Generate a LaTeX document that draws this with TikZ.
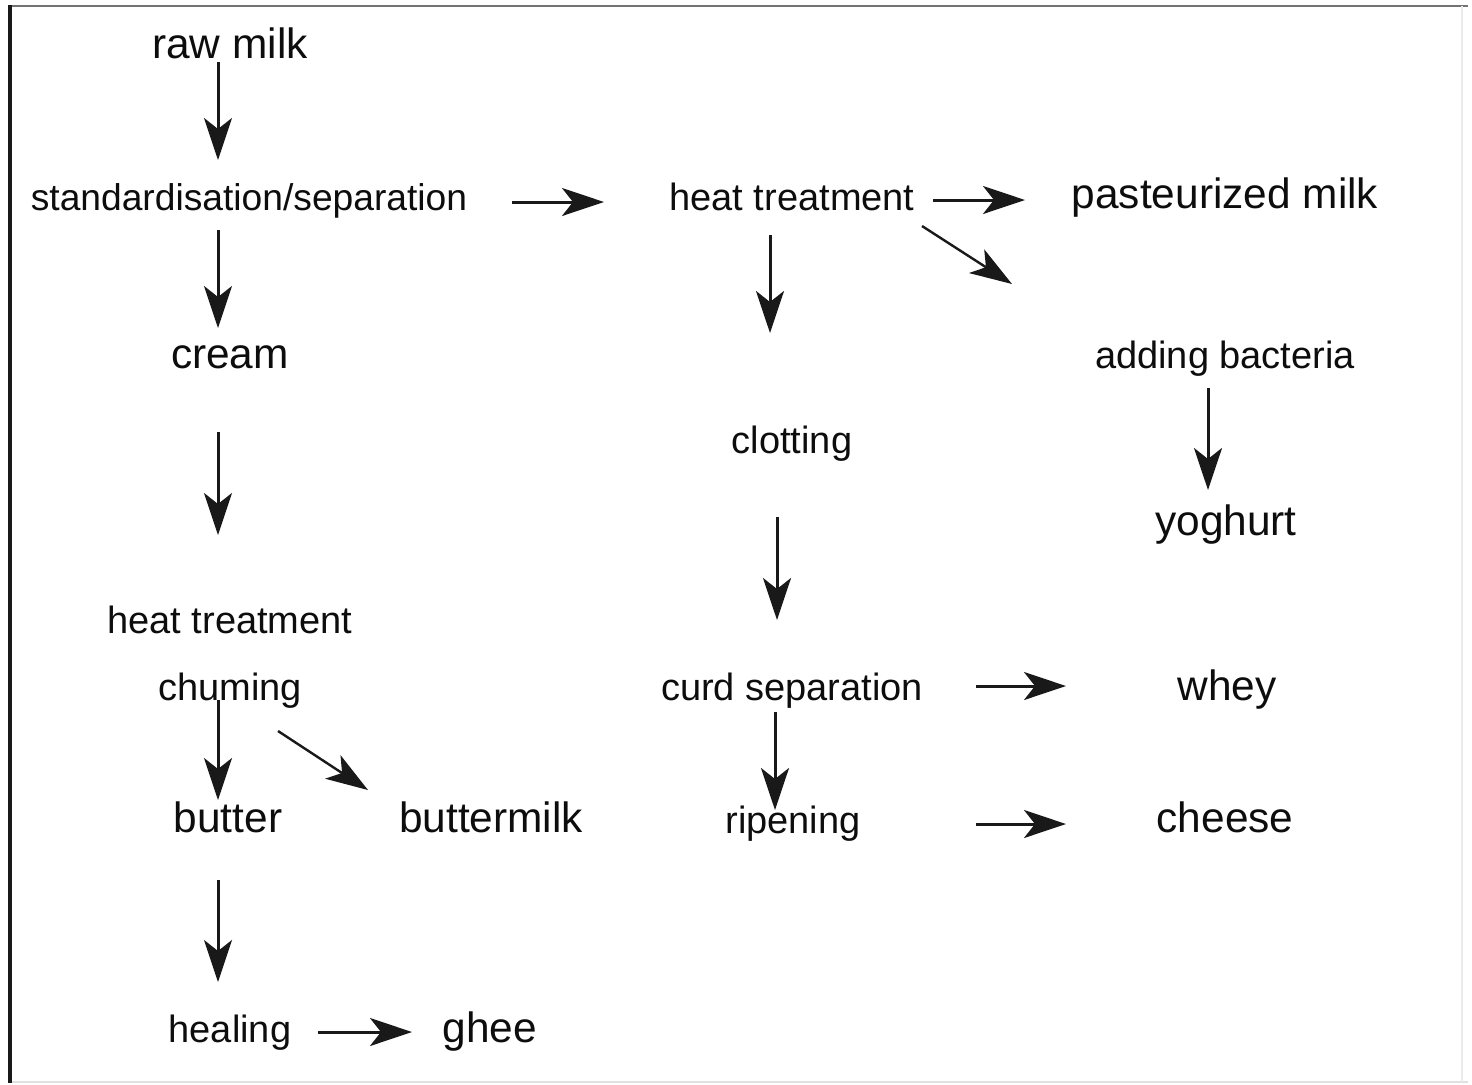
\documentclass[tikz,border=0pt]{standalone}
\usepackage{fontspec}
\setmainfont{Liberation Sans}
\usetikzlibrary{arrows.meta}
\begin{document}
\begin{tikzpicture}[x=0.5pt,y=-0.5pt,
  lbl/.style={anchor=base, inner sep=0pt, text=black!95, font=\fontsize{21.2}{24}\selectfont},
  lbls/.style={lbl, font=\fontsize{19}{22}\selectfont},
  arr/.style={draw=black!90, line width=1.5pt, -{Stealth[length=21pt,width=14pt,inset=5.5pt]}},
  arrd/.style={arr, line width=1.2pt}]
\useasboundingbox (0,0) rectangle (1472,1084);
% frame
\draw[black!55, line width=1pt] (10,6) -- (1468,6);
\draw[black!12, line width=0.8pt] (10,1082) -- (1468,1082);
\draw[black!8, line width=0.8pt] (1462,6) -- (1462,1082);
\draw[black!90, line width=1.6pt] (10,5) -- (10,1083);
% nodes
\node[lbl]  (raw)   at (230,58)   {raw milk};
\node[lbl, font=\fontsize{18.6}{22}\selectfont] (std) at (249,210) {standardisation/separation};
\node[lbls] (ht1)   at (792,210)  {heat treatment};
\node[lbl]  (past)  at (1225,208) {pasteurized milk};
\node[lbl]  (cream) at (230,368)  {cream};
\node[lbls] (bact)  at (1225,368) {adding bacteria};
\node[lbls] (clot)  at (792,453)  {clotting};
\node[lbl]  (yog)   at (1226,535) {yoghurt};
\node[lbls] (ht2)   at (230,633)  {heat treatment};
\node[lbls] (churn) at (230,700)  {chuming};
\node[lbls] (curd)  at (792,700)  {curd separation};
\node[lbl]  (whey)  at (1227,700) {whey};
\node[lbl]  (butter) at (228,832) {butter};
\node[lbl]  (bmilk) at (491,832)  {buttermilk};
\node[lbls] (ripe)  at (793,833)  {ripening};
\node[lbl]  (cheese) at (1225,832) {cheese};
\node[lbls] (heal)  at (230,1042) {healing};
\node[lbl]  (ghee)  at (490,1042) {ghee};
% connector ends
\coordinate (raw-o)   at (218,62);   \coordinate (std-i)   at (218,160);
\coordinate (std-o)   at (218,230);  \coordinate (cream-i) at (218,328);
\coordinate (cream-o) at (218,432);  \coordinate (ht2-i)   at (218,535);
\coordinate (churn-o) at (218,700);  \coordinate (butter-i) at (218,800);
\coordinate (churn-d) at (278,731);  \coordinate (bmilk-i) at (368,790);
\coordinate (butter-o) at (218,880); \coordinate (heal-i)  at (218,982);
\coordinate (heal-o)  at (318,1032); \coordinate (ghee-i)  at (412,1032);
\coordinate (std-r)   at (512,202);  \coordinate (ht1-i)   at (604,202);
\coordinate (ht1-r)   at (933,200);  \coordinate (past-i)  at (1025,200);
\coordinate (ht1-d)   at (922,226);  \coordinate (bact-i)  at (1012,284);
\coordinate (ht1-o)   at (770,235);  \coordinate (clot-i)  at (770,333);
\coordinate (bact-o)  at (1208,388); \coordinate (yog-i)   at (1208,490);
\coordinate (clot-o)  at (777,517);  \coordinate (curd-i)  at (777,620);
\coordinate (curd-r)  at (976,686);  \coordinate (whey-i)  at (1066,686);
\coordinate (curd-o)  at (775,712);  \coordinate (ripe-i)  at (775,810);
\coordinate (ripe-r)  at (976,824);  \coordinate (cheese-i) at (1066,824);
% connectors
\draw[arr]  (raw-o) -- (std-i);
\draw[arr]  (std-o) -- (cream-i);
\draw[arr]  (cream-o) -- (ht2-i);
\draw[arr]  (churn-o) -- (butter-i);
\draw[arrd] (churn-d) -- (bmilk-i);
\draw[arr]  (butter-o) -- (heal-i);
\draw[arr]  (heal-o) -- (ghee-i);
\draw[arr]  (std-r) -- (ht1-i);
\draw[arr]  (ht1-r) -- (past-i);
\draw[arrd] (ht1-d) -- (bact-i);
\draw[arr]  (ht1-o) -- (clot-i);
\draw[arr]  (bact-o) -- (yog-i);
\draw[arr]  (clot-o) -- (curd-i);
\draw[arr]  (curd-r) -- (whey-i);
\draw[arr]  (curd-o) -- (ripe-i);
\draw[arr]  (ripe-r) -- (cheese-i);
\end{tikzpicture}
\end{document}
